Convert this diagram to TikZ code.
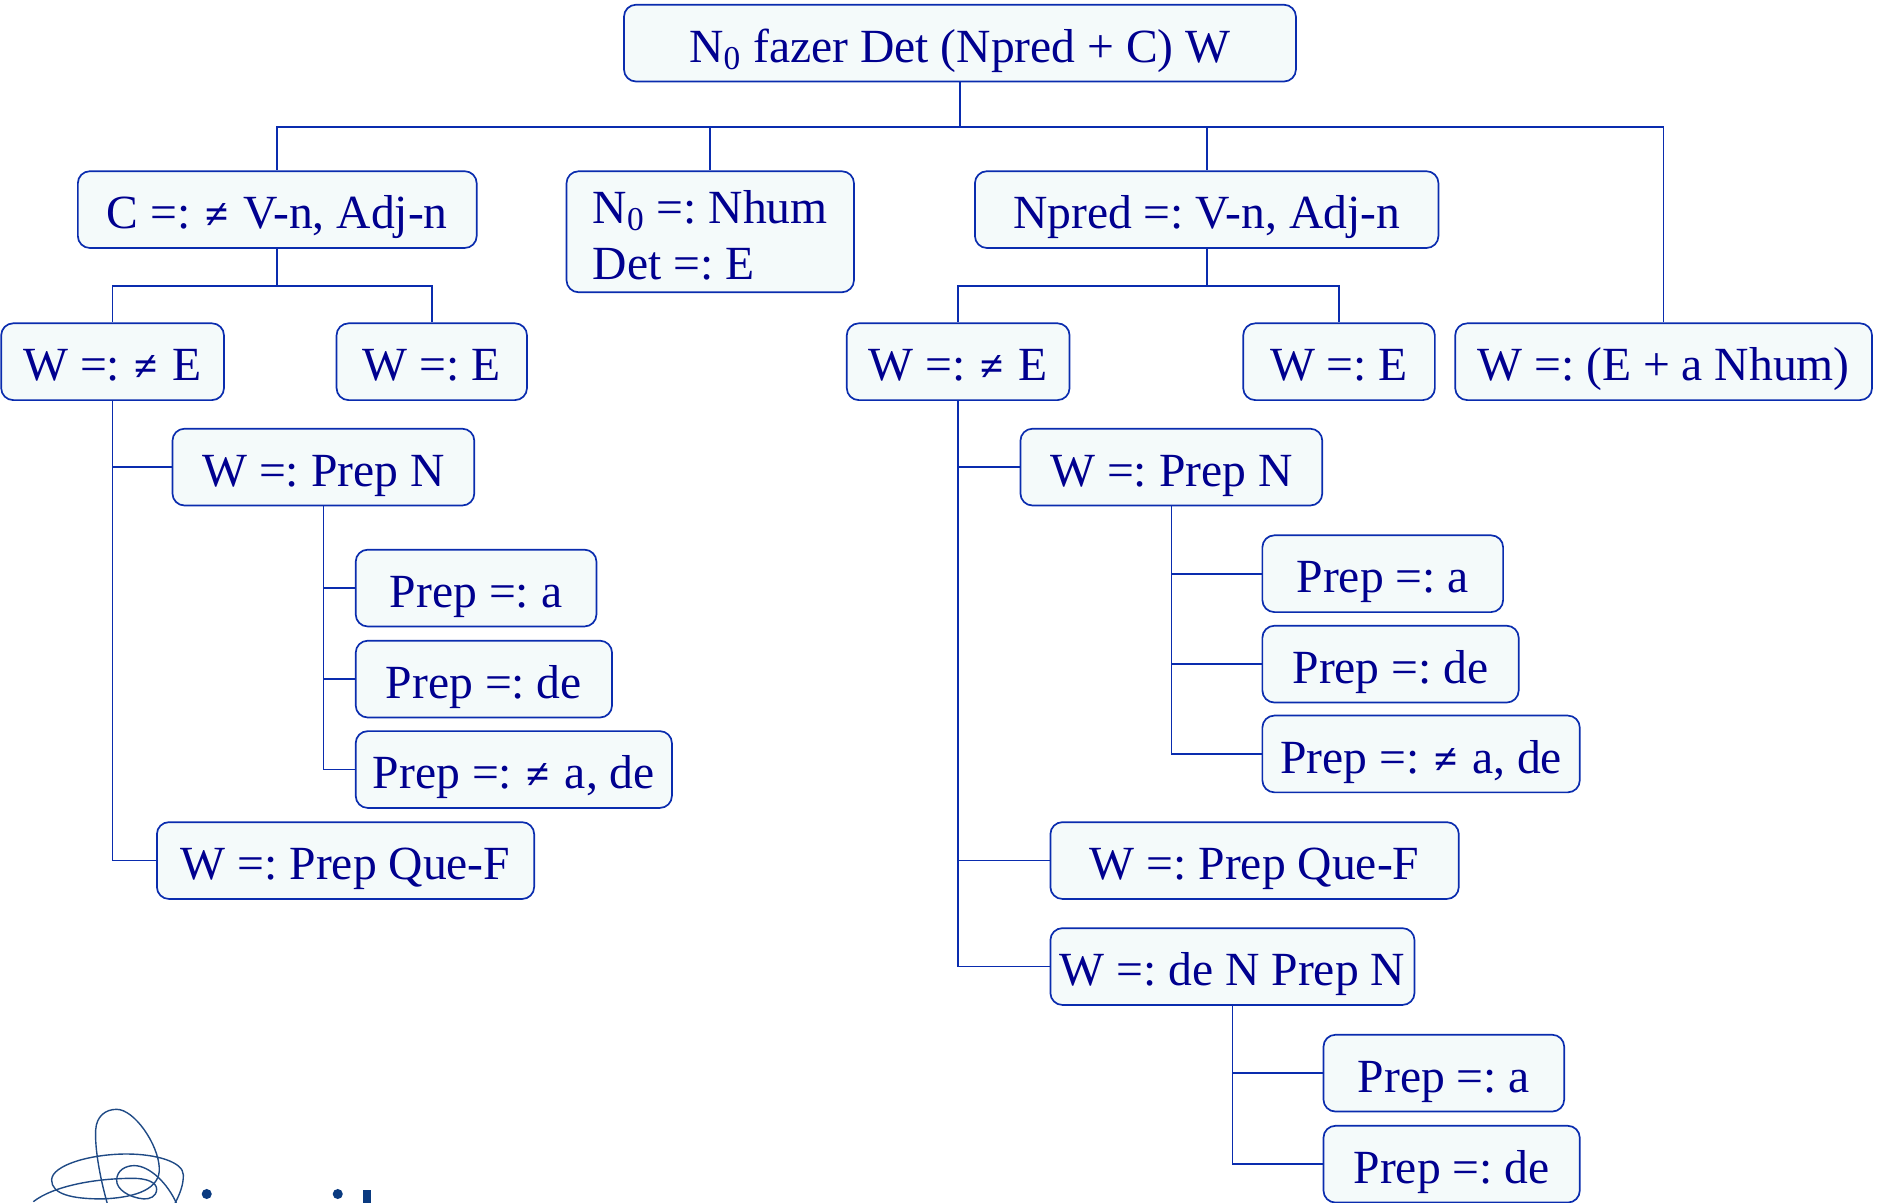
\documentclass[tikz,border=0pt]{standalone}
\usepackage{fontspec}
\setmainfont{Liberation Serif}
\usepackage{tikz}
\newcommand\pxu{0.599pt}
\newcommand\nq{\hspace{1.5pt}{\fontsize{21}{21}\selectfont\bfseries ≠}\hspace{1.5pt}}
\definecolor{linecol}{HTML}{0A2CAE}
\definecolor{inkcol}{HTML}{00008F}
\definecolor{boxfill}{HTML}{F4FAFA}
\definecolor{logocol}{HTML}{1F4A85}
\definecolor{dotcol}{HTML}{0A3A80}
\tikzset{
  treebox/.style={draw=linecol,fill=boxfill,text=inkcol,rounded corners=6pt,inner sep=0pt,
    line width=0.85pt,font=\fontsize{23.8}{28}\selectfont\frenchspacing,minimum width=#1*\pxu},
  oneline/.style={treebox=#1,text height=28.8pt,text depth=9.6pt},
  link/.style={draw=linecol,line width=0.85pt},
  logoline/.style={draw=logocol,line width=0.7pt}
}
\begin{document}
\begin{tikzpicture}[x=\pxu,y=-\pxu]
  \useasboundingbox (0,0) rectangle (1568,1003.6);

  \begin{scope}
    \clip (0,0) rectangle (1568,1003.6);
    \draw [logoline] (89.6,1005) .. controls (84,985) and (79,960) .. (79.9,943.4)
      .. controls (80.5,932) and (88,926.2) .. (97.4,926.2)
      .. controls (112,926.2) and (132,955) .. (133,975)
      .. controls (134,992) and (115,1000) .. (85,1001)
      .. controls (60,1001) and (43,997) .. (43.1,985.2)
      .. controls (43.2,973) and (75,963.5) .. (105.8,963.5)
      .. controls (130,963.5) and (153,970) .. (153.1,981)
      .. controls (153.1,990) and (150,997) .. (146,1005);
    \draw [logoline] (27.8,1003.3) .. controls (45,990) and (80,983.8) .. (111.3,983.8)
      .. controls (122,983.8) and (131,987) .. (130.8,993)
      .. controls (130.6,999) and (125,1001.3) .. (120,1001)
      .. controls (108,1000) and (97,993) .. (97.4,985.2)
      .. controls (97.6,977) and (105,973.2) .. (112,973.2)
      .. controls (125,973.2) and (140,988) .. (147.5,1005);
    \fill [dotcol] (172.6,996.9) circle (4.2);
    \fill [dotcol] (282,996.9) circle (4.2);
    \fill [dotcol] (303.4,993.6) rectangle (309.8,1005);
  \end{scope}

  \node [oneline=561] (root) at (801.5,36) {N\textsubscript{0} fazer Det (Npred + C) W};
  \coordinate (bus) at (801.5,106);

  \node [oneline=333] (cbox) at (231.5,175) {C =: \nq{} V-n, Adj-n};
  \node [treebox=240,minimum height=101*\pxu,align=left] (nbox) at (593,193.5) {\rule{0pt}{20pt}N\textsubscript{0} =: Nhum\\Det =: E};
  \node [oneline=387] (npred) at (1007.5,175) {Npred =: V-n, Adj-n};
  \node [oneline=348] (wnhum) at (1389,302) {W =: (E + a Nhum)};

  \node [oneline=186] (wneL) at (94,302) {W =: \nq{} E};
  \node [oneline=159] (weL) at (360.5,302) {W =: E};
  \node [oneline=186] (wneR) at (800,302) {W =: \nq{} E};
  \node [oneline=160] (weR) at (1118,302) {W =: E};
  \coordinate (cbus) at (231.5,239);
  \coordinate (pbus) at (1007.5,239);

  \node [oneline=252] (wprepL) at (270,390) {W =: Prep N};
  \node [oneline=201] (prepaL) at (397.5,491) {Prep =: a};
  \node [oneline=214] (prepdL) at (404,567) {Prep =: de};
  \node [oneline=264] (prepnL) at (429,642.5) {Prep =: \nq{} a, de};
  \node [oneline=315] (wqueL) at (288.5,718.5) {W =: Prep Que-F};

  \node [oneline=252] (wprepR) at (978,390) {W =: Prep N};
  \node [oneline=201] (prepaR) at (1154.5,479) {Prep =: a};
  \node [oneline=214] (prepdR) at (1161,554.5) {Prep =: de};
  \node [oneline=265] (prepnR) at (1186.5,629.5) {Prep =: \nq{} a, de};
  \node [oneline=341] (wqueR) at (1047.5,718.5) {W =: Prep Que-F};
  \node [oneline=304] (wden) at (1029,807) {W =: de N Prep N};
  \node [oneline=201] (prepaD) at (1205.5,896) {Prep =: a};
  \node [oneline=214] (prepdD) at (1212,972) {Prep =: de};

  \draw [link] (root.south) -- (bus);
  \draw [link] (bus) -| (cbox.north);
  \draw [link] (bus) -| (nbox.north);
  \draw [link] (bus) -| (npred.north);
  \draw [link] (bus) -| (wnhum.north);

  \draw [link] (cbox.south) -- (cbus);
  \draw [link] (cbus) -| (wneL.north);
  \draw [link] (cbus) -| (weL.north);
  \draw [link] (npred.south) -- (pbus);
  \draw [link] (pbus) -| (wneR.north);
  \draw [link] (pbus) -| (weR.north);

  \draw [link] (wneL.south) |- (wprepL.west);
  \draw [link] (wneL.south) |- (wqueL.west);
  \draw [link] (wprepL.south) |- (prepaL.west);
  \draw [link] (wprepL.south) |- (prepdL.west);
  \draw [link] (wprepL.south) |- (prepnL.west);

  \draw [link] (wneR.south) |- (wprepR.west);
  \draw [link] (wneR.south) |- (wqueR.west);
  \draw [link] (wneR.south) |- (wden.west);
  \draw [link] (wprepR.south) |- (prepaR.west);
  \draw [link] (wprepR.south) |- (prepdR.west);
  \draw [link] (wprepR.south) |- (prepnR.west);
  \draw [link] (wden.south) |- (prepaD.west);
  \draw [link] (wden.south) |- (prepdD.west);
\end{tikzpicture}
\end{document}
